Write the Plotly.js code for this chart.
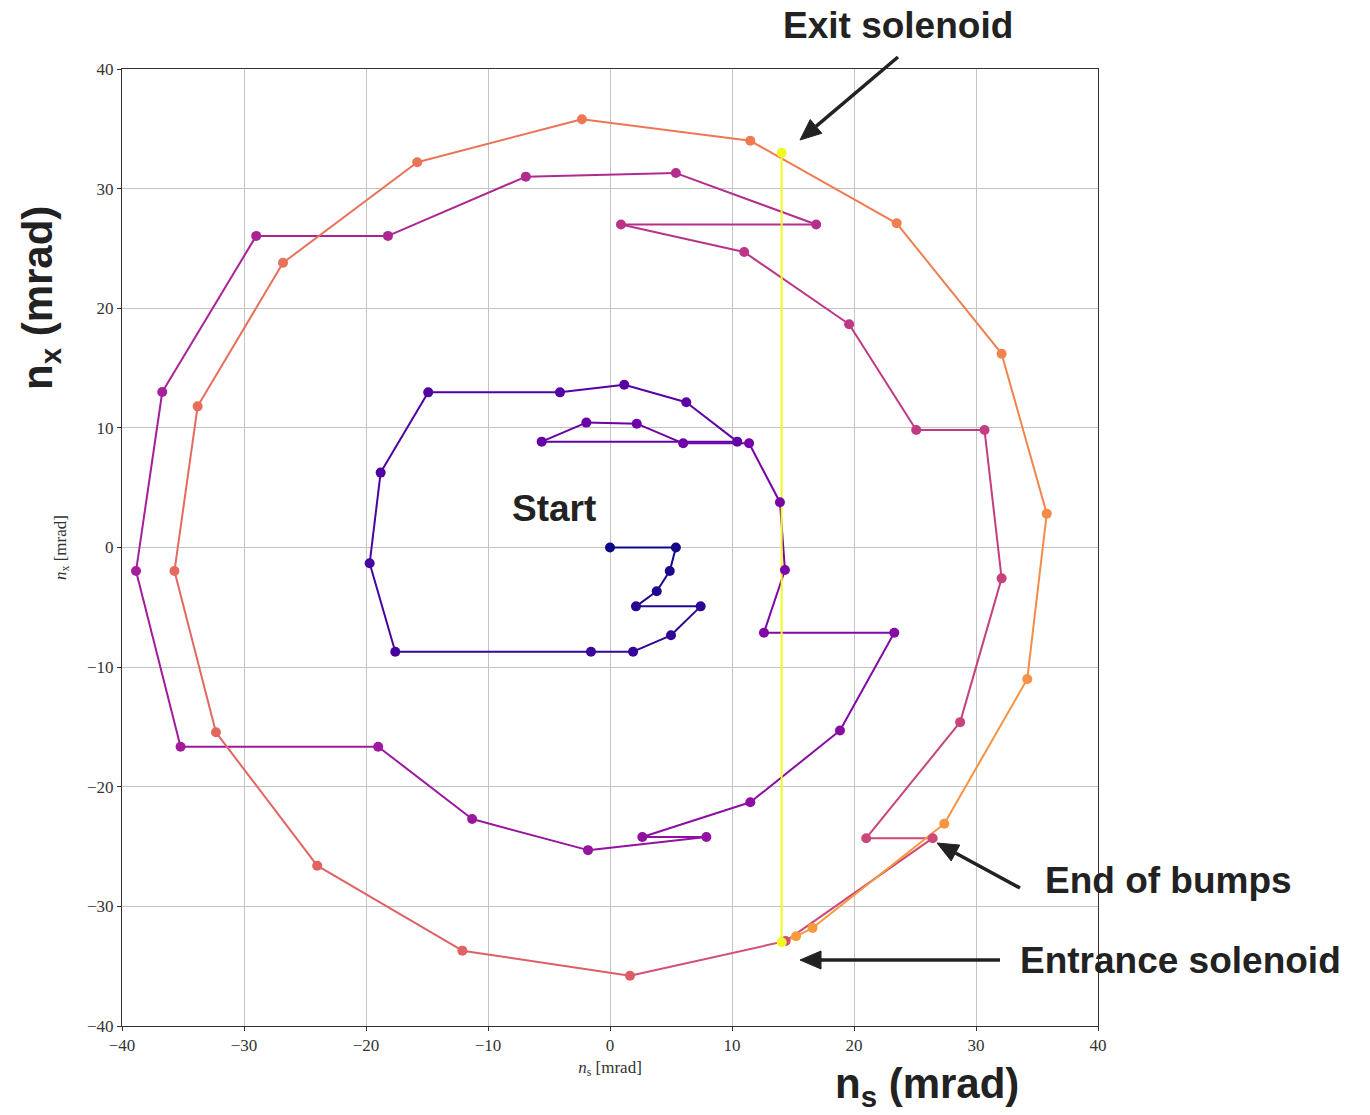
<!DOCTYPE html>
<html>
<head>
<meta charset="utf-8">
<script src="https://cdn.plot.ly/plotly-3.0.1.min.js"></script>
<style>html,body{margin:0;padding:0;background:#fff;}</style>
</head>
<body>
<div id="chart" style="width:1370px;height:1115px;"></div>
<script>
// Spin trajectory (n_s, n_x) in mrad, in tracking order
const ns = [0.0, 5.4, 4.9, 3.83, 2.13, 7.43, 5.0, 1.89, -1.56, -17.6,
  -19.7, -18.8, -14.9, -4.1, 1.17, 6.25, 10.43, -5.6, -1.94, 2.19,
  6.0, 11.4, 13.93, 14.34, 12.62, 23.3, 18.85, 11.5, 2.65, 7.9,
  -1.8, -11.3, -19.0, -35.2, -38.85, -36.7, -29.0, -18.2, -6.9, 5.4,
  16.9, 0.9, 11.0, 19.6, 25.1, 30.7, 32.1, 28.7, 21.0, 26.45,
  14.4, 1.64, -12.1, -24.0, -32.3, -35.7, -33.8, -26.8, -15.8, -2.3,
  11.5, 23.5, 32.1, 35.8, 34.2, 27.4, 16.6, 15.25, 14.07, 14.07];
const nx = [0.0, 0.0, -1.97, -3.66, -4.92, -4.92, -7.34, -8.71, -8.71, -8.71,
  -1.32, 6.26, 12.97, 12.97, 13.6, 12.14, 8.85, 8.85, 10.44, 10.35,
  8.71, 8.71, 3.78, -1.88, -7.12, -7.12, -15.3, -21.3, -24.2, -24.2,
  -25.3, -22.7, -16.65, -16.65, -1.97, 13.0, 26.05, 26.05, 31.0, 31.3,
  27.0, 27.0, 24.7, 18.66, 9.82, 9.82, -2.58, -14.6, -24.3, -24.3,
  -32.9, -35.8, -33.7, -26.6, -15.45, -1.97, 11.8, 23.8, 32.2, 35.8,
  34.0, 27.1, 16.2, 2.83, -11.0, -23.1, -31.8, -32.5, -33.0, 33.0];
// colour value (0..1 on the Plasma scale) read for each point
const colorVal = [0.00, 0.02, 0.03, 0.04, 0.05, 0.06, 0.07, 0.08, 0.09, 0.11,
  0.12, 0.13, 0.14, 0.15, 0.16, 0.17, 0.18, 0.19, 0.20, 0.21,
  0.22, 0.23, 0.24, 0.25, 0.26, 0.27, 0.28, 0.29, 0.30, 0.31,
  0.32, 0.33, 0.34, 0.35, 0.36, 0.37, 0.38, 0.39, 0.40, 0.41,
  0.42, 0.43, 0.44, 0.45, 0.46, 0.47, 0.48, 0.49, 0.50, 0.51,
  0.53, 0.58, 0.59, 0.60, 0.61, 0.62, 0.63, 0.64, 0.65, 0.66,
  0.67, 0.68, 0.70, 0.72, 0.74, 0.75, 0.76, 0.77, 1.00, 1.00];

const plasma = ['#0d0887','#46039f','#7201a8','#9c179e','#bd3786','#d8576b','#ed7953','#fb9f3a','#fdca26','#f0f921'];
function hex2rgb(h){return [parseInt(h.substr(1,2),16),parseInt(h.substr(3,2),16),parseInt(h.substr(5,2),16)];}
function plasmaColor(v){
  const n = plasma.length - 1;
  const p = Math.max(0, Math.min(1, v)) * n;
  const i = Math.min(Math.floor(p), n - 1);
  const f = p - i;
  const a = hex2rgb(plasma[i]), b = hex2rgb(plasma[i+1]);
  const c = a.map((ai, k) => Math.round(ai + (b[k] - ai) * f));
  return 'rgb(' + c.join(',') + ')';
}

const traces = [];
for (let i = 0; i < ns.length - 1; i++) {
  traces.push({
    type: 'scatter', mode: 'lines',
    x: [ns[i], ns[i+1]], y: [nx[i], nx[i+1]],
    line: {color: plasmaColor(colorVal[i]), width: 2},
    hoverinfo: 'skip', showlegend: false
  });
}
traces.push({
  type: 'scatter', mode: 'markers',
  x: ns, y: nx,
  marker: {size: 10, color: colorVal.map(plasmaColor), line: {width: 0}},
  showlegend: false
});

function px(x){return (x - 122) / 976;}
function py(y){return (1026 - y) / 957;}
const bigFont = {family: 'Liberation Sans, Arial, sans-serif', size: 37, color: '#222'};
const axFont = {family: 'Liberation Sans, Arial, sans-serif', size: 42, color: '#222'};

// arrow helper (pixel positions of tail and head) -> shapes in paper coords
function arrowShapes(tx, ty, hx, hy){
  const dx = hx - tx, dy = hy - ty, L = Math.hypot(dx, dy);
  const ux = dx / L, uy = dy / L;
  const bx = hx - 21 * ux, by = hy - 21 * uy;
  const nxp = -uy, nyp = ux;
  const c1x = bx + 9 * nxp, c1y = by + 9 * nyp, c2x = bx - 9 * nxp, c2y = by - 9 * nyp;
  return [
    {type: 'line', xref: 'paper', yref: 'paper', x0: px(tx), y0: py(ty), x1: px(bx), y1: py(by), line: {color: '#222', width: 3.5}},
    {type: 'path', xref: 'paper', yref: 'paper',
     path: 'M ' + px(hx) + ' ' + py(hy) + ' L ' + px(c1x) + ' ' + py(c1y) + ' L ' + px(c2x) + ' ' + py(c2y) + ' Z',
     fillcolor: '#222', line: {color: '#222', width: 1}}
  ];
}
const shapes = [].concat(
  arrowShapes(898, 57, 800, 140),
  arrowShapes(1020, 888, 937, 843),
  arrowShapes(1000, 960, 800, 960)
);

const layout = {
  width: 1370, height: 1115,
  margin: {l: 122, r: 272, t: 69, b: 89},
  paper_bgcolor: '#fff', plot_bgcolor: '#fff',
  showlegend: false,
  xaxis: {
    range: [-40, 40], dtick: 10, tick0: 0,
    showgrid: true, gridcolor: '#c4c4c4', gridwidth: 1,
    zeroline: false, showline: true, mirror: true, linecolor: '#333', linewidth: 1,
    ticks: 'outside', ticklen: 4, tickcolor: '#333',
    tickfont: {family: 'Liberation Serif, serif', size: 17, color: '#333'},
    title: {text: '<i>n</i><sub>s</sub> [mrad]', font: {family: 'Liberation Serif, serif', size: 17, color: '#333'}, standoff: 6}
  },
  yaxis: {
    range: [-40, 40], dtick: 10, tick0: 0,
    showgrid: true, gridcolor: '#c4c4c4', gridwidth: 1,
    zeroline: false, showline: true, mirror: true, linecolor: '#333', linewidth: 1,
    ticks: 'outside', ticklen: 4, tickcolor: '#333',
    tickfont: {family: 'Liberation Serif, serif', size: 17, color: '#333'},
    title: {text: '<i>n</i><sub>x</sub> [mrad]', font: {family: 'Liberation Serif, serif', size: 17, color: '#333'}, standoff: 16}
  },
  shapes: shapes,
  annotations: [
    {xref: 'paper', yref: 'paper', x: px(554), y: py(508), text: '<b>Start</b>', showarrow: false, font: bigFont, xanchor: 'center', yanchor: 'middle'},
    {xref: 'paper', yref: 'paper', x: px(898), y: py(25), text: '<b>Exit solenoid</b>', showarrow: false, font: bigFont, xanchor: 'center', yanchor: 'middle'},
    {xref: 'paper', yref: 'paper', x: px(1168), y: py(880), text: '<b>End of bumps</b>', showarrow: false, font: bigFont, xanchor: 'center', yanchor: 'middle'},
    {xref: 'paper', yref: 'paper', x: px(1180), y: py(960), text: '<b>Entrance solenoid</b>', showarrow: false, font: bigFont, xanchor: 'center', yanchor: 'middle'},
    {xref: 'paper', yref: 'paper', x: px(927), y: py(1086), text: '<b>n<sub>s</sub> (mrad)</b>', showarrow: false, font: axFont, xanchor: 'center', yanchor: 'middle'},
    {xref: 'paper', yref: 'paper', x: px(40), y: py(298), text: '<b>n<sub>x</sub> (mrad)</b>', showarrow: false, textangle: -90, font: axFont, xanchor: 'center', yanchor: 'middle'}
  ]
};

Plotly.newPlot('chart', traces, layout, {displayModeBar: false, staticPlot: true});
</script>
</body>
</html>
